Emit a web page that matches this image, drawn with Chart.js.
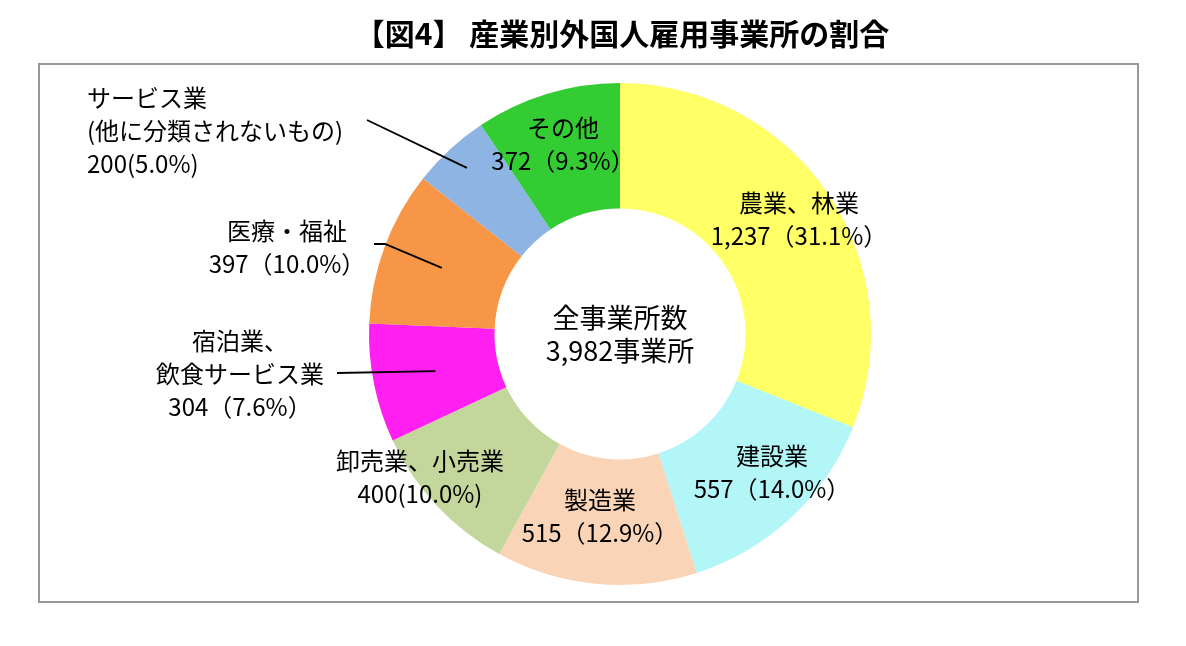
<!DOCTYPE html>
<html lang="ja">
<head>
<meta charset="utf-8">
<script src="https://cdn.jsdelivr.net/npm/chart.js@4.4.1/dist/chart.umd.min.js"></script>
<style>
  body { margin: 0; background: #fff; }
  #wrap { position: relative; width: 1186px; height: 646px; }
</style>
</head>
<body>
<div id="wrap"><canvas id="grafico" width="1186" height="646"></canvas></div>
<script>
// データ
const categorias = ["農業、林業", "建設業", "製造業", "卸売業、小売業", "宿泊業、飲食サービス業", "医療・福祉", "サービス業（他に分類されないもの）", "その他"];
const linhasNome = [["農業、林業"], ["建設業"], ["製造業"], ["卸売業、小売業"], ["宿泊業、", "飲食サービス業"], ["医療・福祉"], ["サービス業", "(他に分類されないもの)"], ["その他"]];
const contagens = [1237, 557, 515, 400, 304, 397, 200, 372];
const percentuais = [31.1, 14.0, 12.9, 10.0, 7.6, 10.0, 5.0, 9.3];
const cores = ["#FFFF66", "#B2F6F8", "#FAD4B6", "#C3D69B", "#FF1FF0", "#F79646", "#8DB4E2", "#33CC33"];
const parentesCurto = [false, false, false, true, false, false, true, false];
const totalTexto = ["全事業所数", "3,982事業所"];
const titulo = "【図4】 産業別外国人雇用事業所の割合";

// posição dos rótulos relativa ao centro (dx, dy da primeira linha)
const layoutRotulos = [
  { dx: 179, dy: -131, align: "center" },
  { dx: 152, dy: 122, align: "center" },
  { dx: -20, dy: 166, align: "center" },
  { dx: -200, dy: 127, align: "center" },
  { dx: -380, dy: 7, align: "center", guia: { pontos: [[-283, 39]], r: 0.75 } },
  { dx: -333, dy: -103, align: "center", guia: { pontos: [[-246, -90], [-235, -90]], r: 0.757 } },
  { dx: -533, dy: -236, align: "left", guia: { pontos: [[-253, -214]], r: 0.9 } },
  { dx: -57, dy: -206, align: "center" }
];

const FONTE = '"Noto Sans CJK JP", "Noto Sans", sans-serif';
const ALTURA_LINHA = 33;

function textoValor(i) {
  const num = contagens[i].toLocaleString("en-US");
  const p = percentuais[i].toFixed(1) + "%";
  return parentesCurto[i] ? `${num}(${p})` : `${num}（${p}）`;
}

// plugin para moldura, título, rótulos e linhas-guia
const pluginRotulos = {
  id: "rotulos",
  beforeDraw(chart) {
    const ctx = chart.ctx;
    ctx.save();
    ctx.fillStyle = "#fff";
    ctx.fillRect(0, 0, chart.width, chart.height);
    ctx.strokeStyle = "#999";
    ctx.lineWidth = 2;
    ctx.strokeRect(39, 64, 1099, 538);
    ctx.fillStyle = "#000";
    ctx.font = `bold 30px ${FONTE}`;
    ctx.textAlign = "center";
    ctx.textBaseline = "middle";
    ctx.fillText(titulo, 622, 34);
    ctx.restore();
  },
  afterDraw(chart) {
    const ctx = chart.ctx;
    const arcos = chart.getDatasetMeta(0).data;
    const cx = arcos[0].x, cy = arcos[0].y;
    ctx.save();
    ctx.fillStyle = "#000";
    ctx.textBaseline = "middle";

    arcos.forEach((arco, i) => {
      const lay = layoutRotulos[i];
      const linhas = linhasNome[i].concat([textoValor(i)]);
      ctx.font = `24px ${FONTE}`;
      ctx.textAlign = lay.align;
      linhas.forEach((t, k) => {
        ctx.fillText(t, cx + lay.dx, cy + lay.dy + k * ALTURA_LINHA);
      });
      if (lay.guia) {
        const meio = (arco.startAngle + arco.endAngle) / 2;
        const r = arco.outerRadius * lay.guia.r;
        ctx.beginPath();
        ctx.strokeStyle = "#000";
        ctx.lineWidth = 1.8;
        lay.guia.pontos.forEach((p, k) => {
          if (k === 0) ctx.moveTo(cx + p[0], cy + p[1]);
          else ctx.lineTo(cx + p[0], cy + p[1]);
        });
        ctx.lineTo(cx + Math.cos(meio) * r, cy + Math.sin(meio) * r);
        ctx.stroke();
      }
    });

    // texto central
    ctx.font = `27px ${FONTE}`;
    ctx.textAlign = "center";
    ctx.fillText(totalTexto[0], cx, cy - 16);
    ctx.fillText(totalTexto[1], cx, cy + 17);
    ctx.restore();
  }
};

new Chart(document.getElementById("grafico").getContext("2d"), {
  type: "doughnut",
  data: {
    labels: categorias,
    datasets: [{
      data: contagens,
      backgroundColor: cores,
      borderWidth: 0
    }]
  },
  options: {
    responsive: false,
    animation: false,
    cutout: "50%",
    layout: { padding: { left: 369, right: 315, top: 83, bottom: 61 } },
    plugins: {
      legend: { display: false },
      tooltip: { enabled: false }
    }
  },
  plugins: [pluginRotulos]
});
</script>
</body>
</html>
